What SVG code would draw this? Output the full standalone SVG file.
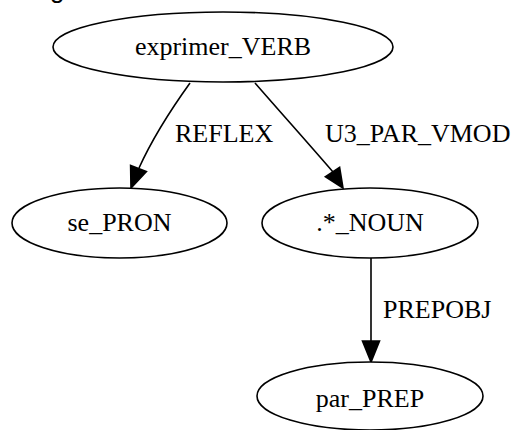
<svg xmlns="http://www.w3.org/2000/svg" width="525" height="430" viewBox="0 0 525 430">
<style>
.node ellipse{fill:#fff;stroke:#000;stroke-width:1.6}
.node text{font-family:"Liberation Serif","Times New Roman",serif;font-size:26px;text-anchor:middle;fill:#000}
.edge path{fill:none;stroke:#000;stroke-width:1.6}
.edge polygon{fill:#000;stroke:#000;stroke-width:1.6}
.edge text{font-family:"Liberation Serif","Times New Roman",serif;font-size:26px;fill:#000}
</style>
<rect width="525" height="430" fill="#fff"/>
<text x="50" y="-2" font-family="Liberation Sans, Arial, sans-serif" font-size="26" fill="#000">g</text>
<g id="edges" class="edge">
<g id="e1">
<path d="M190,83 C172,108 154,135 139,168"/>
<polygon points="131,188 130.6,165.5 146.4,171.6"/>
<text x="175" y="142">REFLEX</text>
</g>
<g id="e2">
<path d="M255,83 C282,114 308,143 333,172"/>
<polygon points="343,188 325.4,176.7 339.6,167.3"/>
<text x="325" y="142">U3_PAR_VMOD</text>
</g>
<g id="e3">
<path d="M371,258 L371,341"/>
<polygon points="371,362 362.5,341 379.5,341"/>
<text x="383" y="318">PREPOBJ</text>
</g>
</g>
<g id="exprimer_VERB" class="node">
<ellipse cx="223" cy="47" rx="170" ry="35"/>
<text x="223" y="55">exprimer_VERB</text>
</g>
<g id="se_PRON" class="node">
<ellipse cx="119.5" cy="223" rx="107.5" ry="35"/>
<text x="119.5" y="231">se_PRON</text>
</g>
<g id="NOUN" class="node">
<ellipse cx="370" cy="223" rx="108" ry="35"/>
<text x="370" y="231">.*_NOUN</text>
</g>
<g id="par_PREP" class="node">
<ellipse cx="370" cy="396" rx="113" ry="34"/>
<text x="370" y="407">par_PREP</text>
</g>
</svg>
